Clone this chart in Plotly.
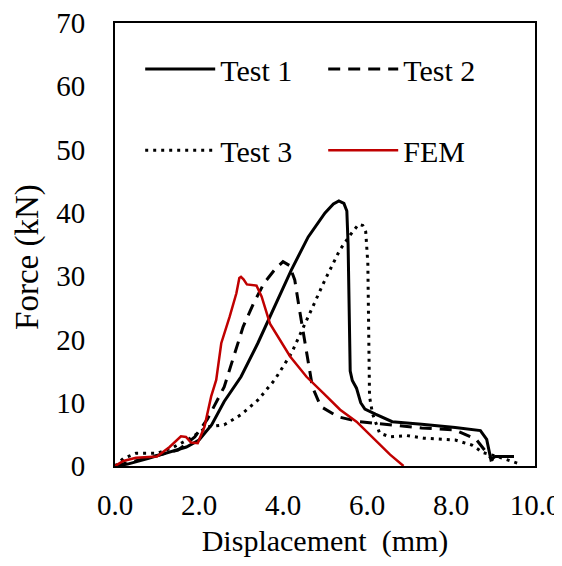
import plotly.graph_objects as go

# Test 1 (solid)
t1_x = [0, 0.3, 0.8, 1.2, 1.7, 2.0, 2.3, 2.6, 3.0, 3.4, 3.8, 4.2, 4.6, 5.0, 5.2, 5.33, 5.45,
        5.52, 5.55, 5.57, 5.6, 5.65, 5.75, 5.85, 5.95, 6.2, 6.6, 7.3, 8.1, 8.7, 8.85, 8.95, 9.05, 9.5]
t1_y = [0, 0.3, 1.2, 2.0, 3.0, 4.1, 6.5, 10.2, 14.1, 19.4, 25.2, 31, 36.2, 40, 41.4, 41.9, 41.5,
        40.3, 35, 25, 15, 13.5, 12.3, 10, 9, 8.2, 7.0, 6.6, 6.1, 5.6, 4.2, 1.0, 1.5, 1.5]

# Test 2 (dashed)
t2_x = [0, 0.5, 1.0, 1.5, 1.9, 2.2, 2.6, 2.85, 3.05, 3.3, 3.55, 3.8, 4.0, 4.15, 4.28, 4.38,
        4.47, 4.58, 4.7, 4.9, 5.3, 5.8, 6.5, 7.3, 8.1, 8.6, 8.85, 9.0]
t2_y = [0, 0.8, 1.6, 2.5, 4.6, 7.4, 12.5, 17.8, 22, 25.7, 28.9, 31, 32.3, 31.7, 29.4, 25.2,
        21.5, 16.7, 12.5, 9.4, 7.8, 7.0, 6.5, 6.0, 5.7, 4.2, 2.1, 0.8]

# Test 3 (dotted)
t3_x = [0, 0.2, 0.5, 1.0, 1.4, 1.8, 2.2, 2.6, 3.0, 3.4, 3.8, 4.2, 4.6, 5.0, 5.35, 5.6, 5.8,
        5.9, 5.97, 6.02, 6.04, 6.06, 6.13, 6.3, 6.55, 6.95, 7.35, 8.1, 8.5, 8.77, 9.1, 9.4, 9.65]
t3_y = [0, 1.2, 2.0, 2.0, 3.0, 4.4, 6.2, 6.5, 8.1, 10.4, 13.6, 17.8, 23.6, 29.4, 34.1, 36.5, 38.2,
        38.0, 37.0, 32, 21.5, 11, 8.3, 5.2, 4.6, 4.8, 4.4, 4.1, 3.3, 2.1, 1.5, 0.8, 0.3]

# FEM (red)
fem_x = [0, 0.2, 0.5, 1.0, 1.3, 1.57, 1.69, 1.81, 1.97, 2.13, 2.29, 2.41, 2.53, 2.61, 2.73, 2.89,
         2.96, 3.0, 3.06, 3.14, 3.37, 3.49, 3.69, 4.17, 4.56, 4.96, 5.36, 5.75, 6.15, 6.55, 6.87]
fem_y = [0, 0.8, 1.3, 1.5, 3.0, 4.7, 4.6, 3.7, 3.6, 6.2, 11, 13.6, 19.4, 21, 23.6, 27.3,
         29.7, 29.9, 29.5, 28.7, 28.5, 26.8, 22.5, 17.3, 14.1, 11.5, 8.9, 7.0, 4.4, 1.8, 0]

x_ticks = [0, 2, 4, 6, 8, 10]
y_ticks = [0, 10, 20, 30, 40, 50, 60, 70]

FONT = "Liberation Serif"
title_font = dict(family=FONT, size=30, color="black")
tick_font = dict(family=FONT, size=29, color="black")

fig = go.Figure()

fig.add_trace(go.Scatter(x=t1_x, y=t1_y, mode="lines", name="Test 1", legend="legend",
                         line=dict(color="black", width=3)))
fig.add_trace(go.Scatter(x=t2_x, y=t2_y, mode="lines", name="Test 2", legend="legend",
                         line=dict(color="black", width=3, dash="12px,8px")))
fig.add_trace(go.Scatter(x=t3_x, y=t3_y, mode="lines", name="Test 3", legend="legend2",
                         line=dict(color="black", width=3, dash="3px,5px")))
fig.add_trace(go.Scatter(x=fem_x, y=fem_y, mode="lines", name="FEM", legend="legend2",
                         line=dict(color="#C00000", width=2.5)))

legend_style = dict(
    orientation="h", xanchor="left", yanchor="middle", x=0.06,
    bgcolor="rgba(0,0,0,0)", font=title_font,
    itemwidth=70, entrywidth=98, entrywidthmode="pixels", traceorder="normal",
)

# page body adds an 8px margin all round; keep the page from overflowing the window
# plot area ends up at x 115-535, y 23-466
fig.update_layout(
    template="none",
    width=554, height=550,
    margin=dict(l=107, r=27, t=15, b=92),
    paper_bgcolor="white", plot_bgcolor="white",
    font=title_font,
    showlegend=True,
    legend=dict(legend_style, y=0.896),
    legend2=dict(legend_style, y=0.713),
)

# y title as annotation so it sits a bit below the axis centre like the original
fig.add_annotation(
    text="Force (kN)", textangle=-90, showarrow=False,
    xref="paper", yref="paper", x=-0.207, y=0.472,
    xanchor="center", yanchor="middle",
    font=dict(family=FONT, size=33, color="black"),
)

fig.update_xaxes(
    range=[0, 10], tickvals=x_ticks, tickformat=".1f", ticks="",
    tickfont=tick_font, ticklabeloverflow="allow",
    showgrid=False, zeroline=False,
    showline=True, linecolor="black", linewidth=2, mirror=True,
    ticklabelstandoff=12,
    title=dict(text="Displacement  (mm)", standoff=12, font=title_font),
)
fig.update_yaxes(
    range=[0, 70], tickvals=y_ticks, ticks="",
    tickfont=tick_font, ticklabeloverflow="allow",
    showgrid=False, zeroline=False,
    showline=True, linecolor="black", linewidth=2, mirror=True,
    ticklabelstandoff=22,
)

fig.write_html("out.html")
